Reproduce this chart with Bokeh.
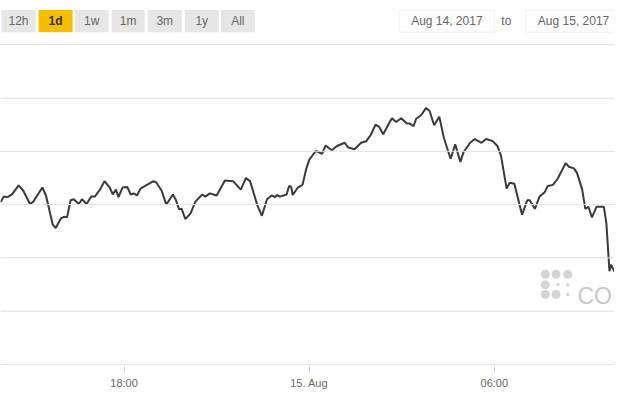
import pandas as pd
from bokeh.plotting import figure
from bokeh.models import (Range1d, FixedTicker, CustomJSTickFormatter, BoxAnnotation,
                          Label, Span)
from bokeh.embed import file_html
from bokeh.resources import INLINE

# ---------------- data ----------------
start_time = "2017-08-14 14:00"
minutes = [0, 6, 13, 22, 35, 44, 57, 63, 81, 88, 101, 107, 117, 123, 129, 136, 142, 152,
           158, 167, 176, 183, 193, 202, 212, 218, 224, 229, 237, 246, 253, 259, 265, 272,
           281, 297, 303, 313, 322, 335, 341, 347, 352, 359, 369, 379, 392, 398, 407, 420,
           436, 452, 467, 477, 485, 499, 508, 518, 527, 534, 537, 543, 556, 561, 565, 568,
           578, 587, 594, 600, 613, 625, 632, 644, 654, 669, 676, 688, 701, 711, 720, 729,
           736, 744, 755, 761, 769, 779, 790, 796, 803, 808, 818, 827, 834, 843, 853, 862,
           875, 884, 894, 900, 913, 922, 935, 944, 957, 966, 973, 984, 990, 999, 1014, 1024,
           1029, 1039, 1048, 1058, 1064, 1074, 1083, 1099, 1105, 1115, 1121, 1131, 1137,
           1143, 1150, 1159, 1173, 1178, 1184, 1187, 1194]
prices = [4105, 4115, 4114, 4119, 4136, 4126, 4101, 4105, 4132, 4117, 4063, 4056, 4074,
          4077, 4076, 4108, 4110, 4101, 4110, 4101, 4115, 4115, 4128, 4144, 4132, 4119,
          4128, 4114, 4132, 4133, 4119, 4121, 4117, 4130, 4135, 4144, 4141, 4126, 4100,
          4119, 4108, 4091, 4092, 4073, 4083, 4106, 4119, 4115, 4121, 4117, 4145, 4144,
          4128, 4150, 4144, 4099, 4079, 4110, 4117, 4114, 4118, 4115, 4119, 4135, 4133,
          4118, 4132, 4137, 4166, 4184, 4201, 4195, 4211, 4202, 4210, 4216, 4207, 4204,
          4216, 4219, 4231, 4250, 4246, 4232, 4252, 4262, 4255, 4262, 4252, 4252, 4247,
          4261, 4268, 4281, 4276, 4249, 4265, 4225, 4186, 4213, 4180, 4198, 4216, 4223,
          4216, 4223, 4219, 4210, 4192, 4130, 4141, 4139, 4081, 4108, 4108, 4092, 4115,
          4123, 4135, 4137, 4148, 4178, 4171, 4168, 4159, 4128, 4092, 4096, 4076, 4096,
          4096, 4065, 3975, 3987, 3974]
grid_values = [3900, 4000, 4100, 4200, 4300, 4400]
tick_times = ["2017-08-14 18:00", "2017-08-15 00:00", "2017-08-15 06:00"]
range_buttons = ["12h", "1d", "1w", "1m", "3m", "1y", "All"]
selected_button = "1d"
date_from = "Aug 14, 2017"
date_to = "Aug 15, 2017"

# ---------------- setup ----------------
W, H = 614, 400
base = pd.Timestamp(start_time)
times = base + pd.to_timedelta(minutes, unit="m")
to_ms = lambda ts: pd.Timestamp(ts).value / 1e6
xs = to_ms(base) - 0.4 * 60000
xe = to_ms(base) + 1193.8 * 60000
Y_TOP, Y_BOT = 4483.0, 3798.0

def X(rx):  # reference pixel -> data x
    return xs + rx / 630.0 * (xe - xs)

def Y(ry):  # reference pixel -> data y (frame spans ref px 0..380)
    return Y_TOP - ry / 380.0 * (Y_TOP - Y_BOT)

p = figure(width=W, height=H, output_backend="svg", toolbar_location=None,
           x_axis_type="datetime", y_axis_location=None, title=None,
           x_range=Range1d(xs, xe), y_range=Range1d(Y_BOT, Y_TOP),
           min_border_left=0, min_border_right=0, min_border_top=0, min_border_bottom=35)
p.outline_line_color = None
p.background_fill_color = "white"
p.border_fill_color = "white"
p.xgrid.visible = False

for gv in grid_values:
    p.add_layout(Span(location=gv, dimension="width", line_color="#e6e6e6",
                      line_width=1))

ax = p.xaxis[0]
ax.ticker = FixedTicker(ticks=[to_ms(t) for t in tick_times])
ax.formatter = CustomJSTickFormatter(code="""
const d = new Date(tick);
const h = d.getUTCHours(), m = d.getUTCMinutes();
const months = ["Jan","Feb","Mar","Apr","May","Jun","Jul","Aug","Sep","Oct","Nov","Dec"];
if (h == 0 && m == 0) { return d.getUTCDate() + ". " + months[d.getUTCMonth()]; }
return String(h).padStart(2, "0") + ":" + String(m).padStart(2, "0");
""")
ax.axis_line_color = None
ax.major_tick_in = 0
ax.major_tick_out = 8
ax.major_tick_line_color = "#ccd6eb"
ax.minor_tick_line_color = None
ax.major_label_text_color = "#666666"
ax.major_label_text_font = "Liberation Sans"
ax.major_label_text_font_size = "11px"
ax.major_label_standoff = 3

# ---------------- range selector buttons ----------------
btn_edges = [(1, 36), (39, 74), (76, 111), (114, 148), (151, 186), (189, 224), (226, 261)]
for name, (l, r) in zip(range_buttons, btn_edges):
    sel = name == selected_button
    p.add_layout(BoxAnnotation(left=X(l), right=X(r), top=Y(10), bottom=Y(33),
                               fill_color="#f7bd00" if sel else "#e6e6e6", fill_alpha=1,
                               line_color=None))
    p.add_layout(Label(x=X((l + r) / 2), y=Y(21.5), text=name, text_align="center",
                       text_baseline="middle", text_font="Liberation Sans",
                       text_font_size="12px",
                       text_font_style="bold" if sel else "normal",
                       text_color="#333333" if sel else "#666666"))

# ---------------- date inputs ----------------
for (l, r), txt in [((409, 507), date_from), ((539, 640), date_to)]:
    p.add_layout(BoxAnnotation(left=X(l), right=X(r), top=Y(10), bottom=Y(33),
                               fill_color="white", fill_alpha=1, line_color="#cccccc",
                               line_width=1))
    p.add_layout(Label(x=X(l + 49), y=Y(21.5), text=txt, text_align="center",
                       text_baseline="middle", text_font="Liberation Sans",
                       text_font_size="12px", text_color="#666666"))
p.add_layout(Label(x=X(519), y=Y(21.5), text="to", text_align="center",
                   text_baseline="middle", text_font="Liberation Sans",
                   text_font_size="12px", text_color="#666666"))

# ---------------- watermark ----------------
big = [(559, 285), (570, 285), (582, 285), (559, 296), (559, 306), (570, 306)]
small = [(572, 296), (582, 296), (582, 306)]
p.scatter([X(a) for a, b in big], [Y(b) for a, b in big], size=9,
          color="#d4d4d4", line_color=None)
p.scatter([X(a) for a, b in small], [Y(b) for a, b in small], size=3.5,
          color="#d4d4d4", line_color=None)
p.add_layout(Label(x=X(592), y=Y(308), text="CO", text_align="left",
                   text_baseline="alphabetic", text_font="Liberation Sans",
                   text_font_size="23px", text_color="#c8c8c8"))

# ---------------- price line ----------------
p.line(times, prices, line_color="#3a3a3a", line_width=2)

open("out.html", "w").write(file_html(p, INLINE))
